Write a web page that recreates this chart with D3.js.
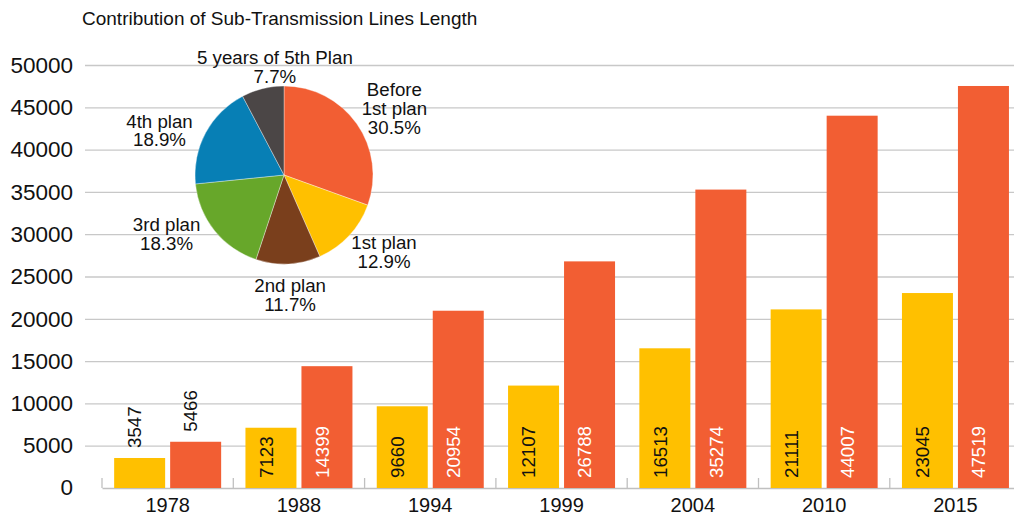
<!DOCTYPE html>
<html>
<head>
<meta charset="utf-8">
<script src="https://d3js.org/d3.v7.min.js"></script>
<style>
	body { margin: 0; background: #fff; }
	text { font-family: "Liberation Sans", Arial, Helvetica, sans-serif; }
</style>
</head>
<body>
<script>

// values
const years = ["1978", "1988", "1994", "1999", "2004", "2010", "2015"];
const seriesNames = ["added", "total"];
const addedLength = [3547, 7123, 9660, 12107, 16513, 21111, 23045];
const totalLength = [5466, 14399, 20954, 26788, 35274, 44007, 47519];
const yTicks = [0, 5000, 10000, 15000, 20000, 25000, 30000, 35000, 40000, 45000, 50000];

const pieNames = [["Before", "1st plan"], ["1st plan"], ["2nd plan"], ["3rd plan"], ["4th plan"], ["5 years of 5th Plan"]];
const pieShares = [30.5, 12.9, 11.7, 18.3, 18.9, 7.7];

const barColors = { added: "#FFC000", total: "#F25E33" };
const pieColors = ["#F25E33", "#FFC000", "#7A3F1C", "#67A72A", "#077FB5", "#4B4646"];

const W = 1014, H = 517;
const svg = d3.select("body").append("svg")
	.attr("width", W)
	.attr("height", H);

const y = d3.scaleLinear().domain([0, 50000]).range([488, 65]);
const x = d3.scaleBand().domain(years).range([102, 102 + 7 * 131.3]).padding(0);
const xs = d3.scaleBand().domain(seriesNames).range([0, x.bandwidth()])
	.paddingInner(0.0893).paddingOuter(0.217);

// title
svg.append("text")
	.attr("x", 82)
	.attr("y", 25)
	.style("font-size", "19px")
	.attr("fill", "#111")
	.text("Contribution of Sub-Transmission Lines Length");

// y axis + gridlines
const yAxis = d3.axisLeft(y)
	.tickValues(yTicks.filter(d => d > 0))
	.tickSize(-(W - 85))
	.tickPadding(12)
	.tickFormat(d3.format("d"));

svg.append("g")
	.attr("transform", "translate(85,0)")
	.call(yAxis)
	.call(g => g.select(".domain").remove())
	.call(g => g.selectAll("line").attr("stroke", "#c8c8c8").attr("stroke-width", 1.3))
	.call(g => g.selectAll("text").style("font-size", "22.5px").attr("fill", "#111"));

svg.append("text")
	.attr("x", 73)
	.attr("y", y(0))
	.attr("dy", "0.32em")
	.attr("text-anchor", "end")
	.style("font-size", "22.5px")
	.attr("fill", "#111")
	.text(yTicks[0]);

// x axis
svg.append("g")
	.attr("transform", "translate(0," + y(0) + ")")
	.call(d3.axisBottom(x).tickSize(0).tickPadding(9.5))
	.call(g => g.select(".domain").attr("stroke", "#c0c0c0").attr("stroke-width", 1.3))
	.call(g => g.selectAll("text").style("font-size", "20px").attr("fill", "#111"));

svg.append("g")
	.selectAll("line")
	.data(years)
	.join("line")
	.attr("x1", d => x(d))
	.attr("x2", d => x(d))
	.attr("y1", y(0))
	.attr("y2", y(0) - 10)
	.attr("stroke", "#c0c0c0")
	.attr("stroke-width", 1.3);

// bars
const rows = years.map((yr, i) => ({ year: yr, values: [
	{ key: "added", value: addedLength[i] },
	{ key: "total", value: totalLength[i] }
] }));

const groups = svg.append("g")
	.selectAll("g")
	.data(rows)
	.join("g")
	.attr("transform", d => "translate(" + x(d.year) + ",0)");

groups.selectAll("rect")
	.data(d => d.values)
	.join("rect")
	.attr("x", d => xs(d.key))
	.attr("width", xs.bandwidth())
	.attr("y", d => y(d.value))
	.attr("height", d => y(0) - y(d.value))
	.attr("fill", d => barColors[d.key]);

const labelFont = 18.7, labelPad = 10;
groups.selectAll("text.val")
	.data(d => d.values)
	.join("text")
	.attr("class", "val")
	.style("font-size", labelFont + "px")
	.text(d => d.value)
	.each(function(d) {
		const len = this.getComputedTextLength();
		const h = y(0) - y(d.value);
		const inside = h > len + labelPad + 4;
		const cx = xs(d.key) + xs.bandwidth() / 2 + 1.8;
		const ty = inside ? y(0) - labelPad : y(d.value) - labelPad;
		d3.select(this)
			.attr("transform", "translate(" + cx + "," + ty + ") rotate(-90)")
			.attr("fill", inside && d.key === "total" ? "#fff" : "#111");
	});

// pie
const pcx = 284, pcy = 175, pr = 89;
const pie = d3.pie().sort(null).value(d => d);
const arcs = pie(pieShares);
const arc = d3.arc().innerRadius(0).outerRadius(pr);
const labelArc = d3.arc().innerRadius(130).outerRadius(130);
// small shifts so labels sit where the reference puts them
const labelNudge = [[4, 8], [5, -12], [0, -10], [-16, -22], [-10, 17], [22, 18]];

const pg = svg.append("g").attr("transform", "translate(" + pcx + "," + pcy + ")");
pg.selectAll("path")
	.data(arcs)
	.join("path")
	.attr("d", arc)
	.attr("fill", (d, i) => pieColors[i])
	.attr("stroke", "#fff")
	.attr("stroke-width", 0.6)
	.attr("stroke-opacity", 0.6);

pg.selectAll("text")
	.data(arcs)
	.join("text")
	.attr("text-anchor", "middle")
	.style("font-size", labelFont + "px")
	.attr("fill", "#111")
	.each(function(d, i) {
		const c = labelArc.centroid(d);
		const lines = pieNames[i].concat([d3.format(".1f")(pieShares[i]) + "%"]);
		const lh = 18.8;
		const px = c[0] + labelNudge[i][0];
		const py = c[1] + labelNudge[i][1] - (lines.length - 1) * lh / 2;
		d3.select(this).selectAll("tspan")
			.data(lines)
			.join("tspan")
			.attr("x", px)
			.attr("y", (t, k) => py + k * lh)
			.attr("dy", "0.35em")
			.text(t => t);
	});

</script>
</body>
</html>
